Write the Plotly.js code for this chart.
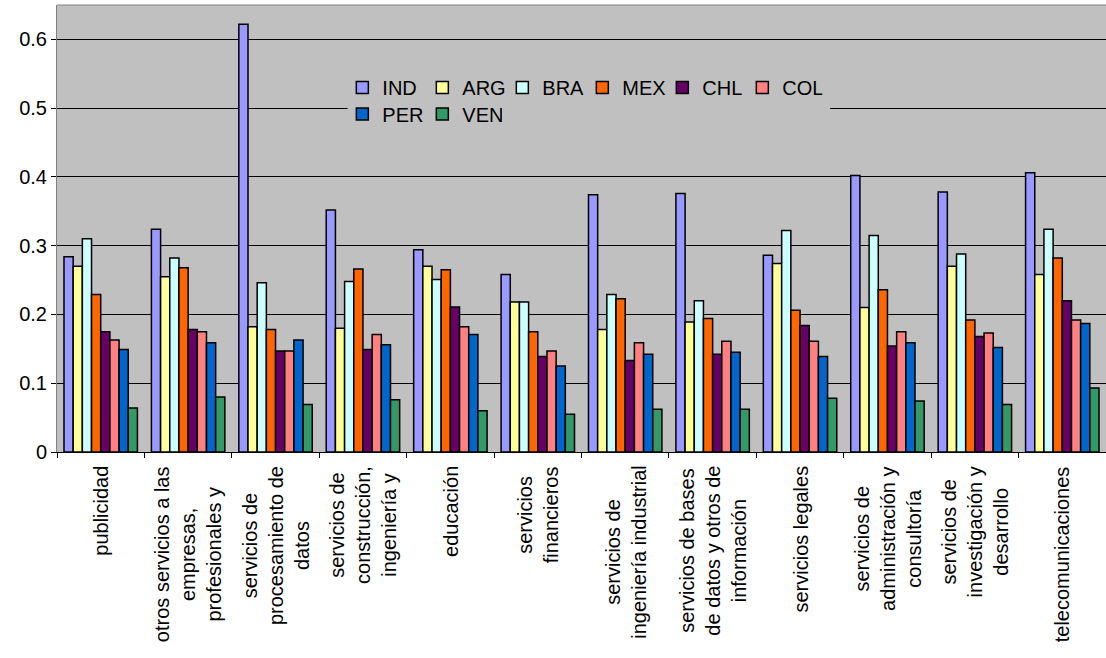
<!DOCTYPE html>
<html>
<head>
<meta charset="utf-8">
<script src="https://cdn.plot.ly/plotly-3.0.1.min.js"></script>
<style>
  html, body { margin: 0; padding: 0; background: #ffffff; }
  #chart { width: 1106px; height: 658px; }
</style>
</head>
<body>
<div id="chart"></div>
<script>
// Category labels (line breaks as in the original chart)
const categories = [
  "publicidad",
  "otros servicios a las<br>empresas,<br>profesionales y",
  "servicios de<br>procesamiento de<br>datos",
  "servicios de<br>construcción,<br>ingeniería y",
  "educación",
  "servicios<br>financieros",
  "servicios de<br>ingeniería industrial",
  "servicios de bases<br>de datos y otros de<br>información",
  "servicios legales",
  "servicios de<br>administración y<br>consultoría",
  "servicios de<br>investigación y<br>desarrollo",
  "telecomunicaciones"
];

const seriesNames = ["IND", "ARG", "BRA", "MEX", "CHL", "COL", "PER", "VEN"];

const IND = [0.284, 0.324, 0.622, 0.352, 0.294, 0.258, 0.374, 0.376, 0.286, 0.402, 0.378, 0.406];
const ARG = [0.270, 0.255, 0.182, 0.180, 0.270, 0.218, 0.178, 0.189, 0.274, 0.210, 0.270, 0.258];
const BRA = [0.310, 0.282, 0.246, 0.248, 0.251, 0.218, 0.229, 0.220, 0.322, 0.315, 0.288, 0.324];
const MEX = [0.229, 0.268, 0.178, 0.266, 0.265, 0.175, 0.223, 0.194, 0.206, 0.236, 0.192, 0.282];
const CHL = [0.175, 0.178, 0.147, 0.149, 0.211, 0.139, 0.133, 0.142, 0.184, 0.154, 0.168, 0.220];
const COL = [0.163, 0.175, 0.147, 0.171, 0.182, 0.147, 0.159, 0.161, 0.161, 0.175, 0.173, 0.192];
const PER = [0.149, 0.159, 0.163, 0.156, 0.171, 0.125, 0.142, 0.145, 0.139, 0.159, 0.152, 0.187];
const VEN = [0.064, 0.080, 0.069, 0.076, 0.060, 0.055, 0.062, 0.062, 0.078, 0.074, 0.069, 0.093];

const yTickVals = [0, 0.1, 0.2, 0.3, 0.4, 0.5, 0.6];
const yTickText = ["0", "0.1", "0.2", "0.3", "0.4", "0.5", "0.6"];

const seriesValues = [IND, ARG, BRA, MEX, CHL, COL, PER, VEN];
const colors = ["#9999FF", "#FFFF99", "#CCFFFF", "#FF6600", "#660066", "#FF8080", "#0066CC", "#339966"];

const FONT = "Arial, 'Liberation Sans', sans-serif";

const traces = seriesNames.map((name, i) => ({
  type: "bar",
  name: name,
  x: categories,
  y: seriesValues[i],
  marker: { color: colors[i], line: { color: "#000000", width: 1.5 } },
  legend: i < 6 ? "legend" : "legend2",
  hoverinfo: "name+y"
}));

const annotations = categories.map(c => ({
  x: c, xref: "x",
  y: 0, yref: "paper",
  yanchor: "top", xanchor: "center",
  yshift: -12,
  text: c,
  textangle: -90,
  align: "center",
  showarrow: false,
  font: { family: FONT, size: 20, color: "#000000" }
}));

const legendCommon = {
  orientation: "h",
  xanchor: "left",
  yanchor: "top",
  bgcolor: "rgba(0,0,0,0)",
  borderwidth: 0,
  entrywidth: 35,
  entrywidthmode: "pixels",
  font: { family: FONT, size: 20, color: "#000000" },
  traceorder: "normal"
};

const layout = {
  width: 1106,
  height: 658,
  margin: { l: 57, r: 0, t: 5, b: 206, pad: 0 },
  paper_bgcolor: "#ffffff",
  plot_bgcolor: "#C0C0C0",
  font: { family: FONT, size: 20, color: "#000000" },
  barmode: "group",
  bargap: 0.16,
  bargroupgap: 0,
  showlegend: true,
  xaxis: {
    type: "category",
    showticklabels: false,
    ticks: "outside",
    tickson: "boundaries",
    ticklen: 5,
    tickcolor: "#000000",
    tickwidth: 1,
    showline: true,
    linecolor: "#000000",
    linewidth: 1,
    showgrid: false,
    fixedrange: true
  },
  yaxis: {
    range: [0, 0.65],
    tickvals: yTickVals,
    ticktext: yTickText,
    ticks: "outside",
    ticklen: 5,
    tickcolor: "#000000",
    tickfont: { family: FONT, size: 20, color: "#000000" },
    showline: true,
    linecolor: "#808080",
    linewidth: 1,
    showgrid: true,
    gridcolor: "#000000",
    gridwidth: 1,
    zeroline: false,
    fixedrange: true
  },
  legend: Object.assign({}, legendCommon, { x: 0.272, y: 0.859 }),
  legend2: Object.assign({}, legendCommon, { x: 0.272, y: 0.8 }),
  shapes: [
    { type: "rect", xref: "paper", yref: "paper",
      x0: 0.277, x1: 0.737, y0: 0.725, y1: 0.855,
      fillcolor: "#C0C0C0", line: { width: 0 }, layer: "above" },
    { type: "line", xref: "paper", yref: "paper",
      x0: 0, x1: 1, y0: 1, y1: 1,
      line: { color: "#808080", width: 1 }, layer: "above" }
  ],
  annotations: annotations
};

Plotly.newPlot("chart", traces, layout, { displayModeBar: false, staticPlot: true });
</script>
</body>
</html>
